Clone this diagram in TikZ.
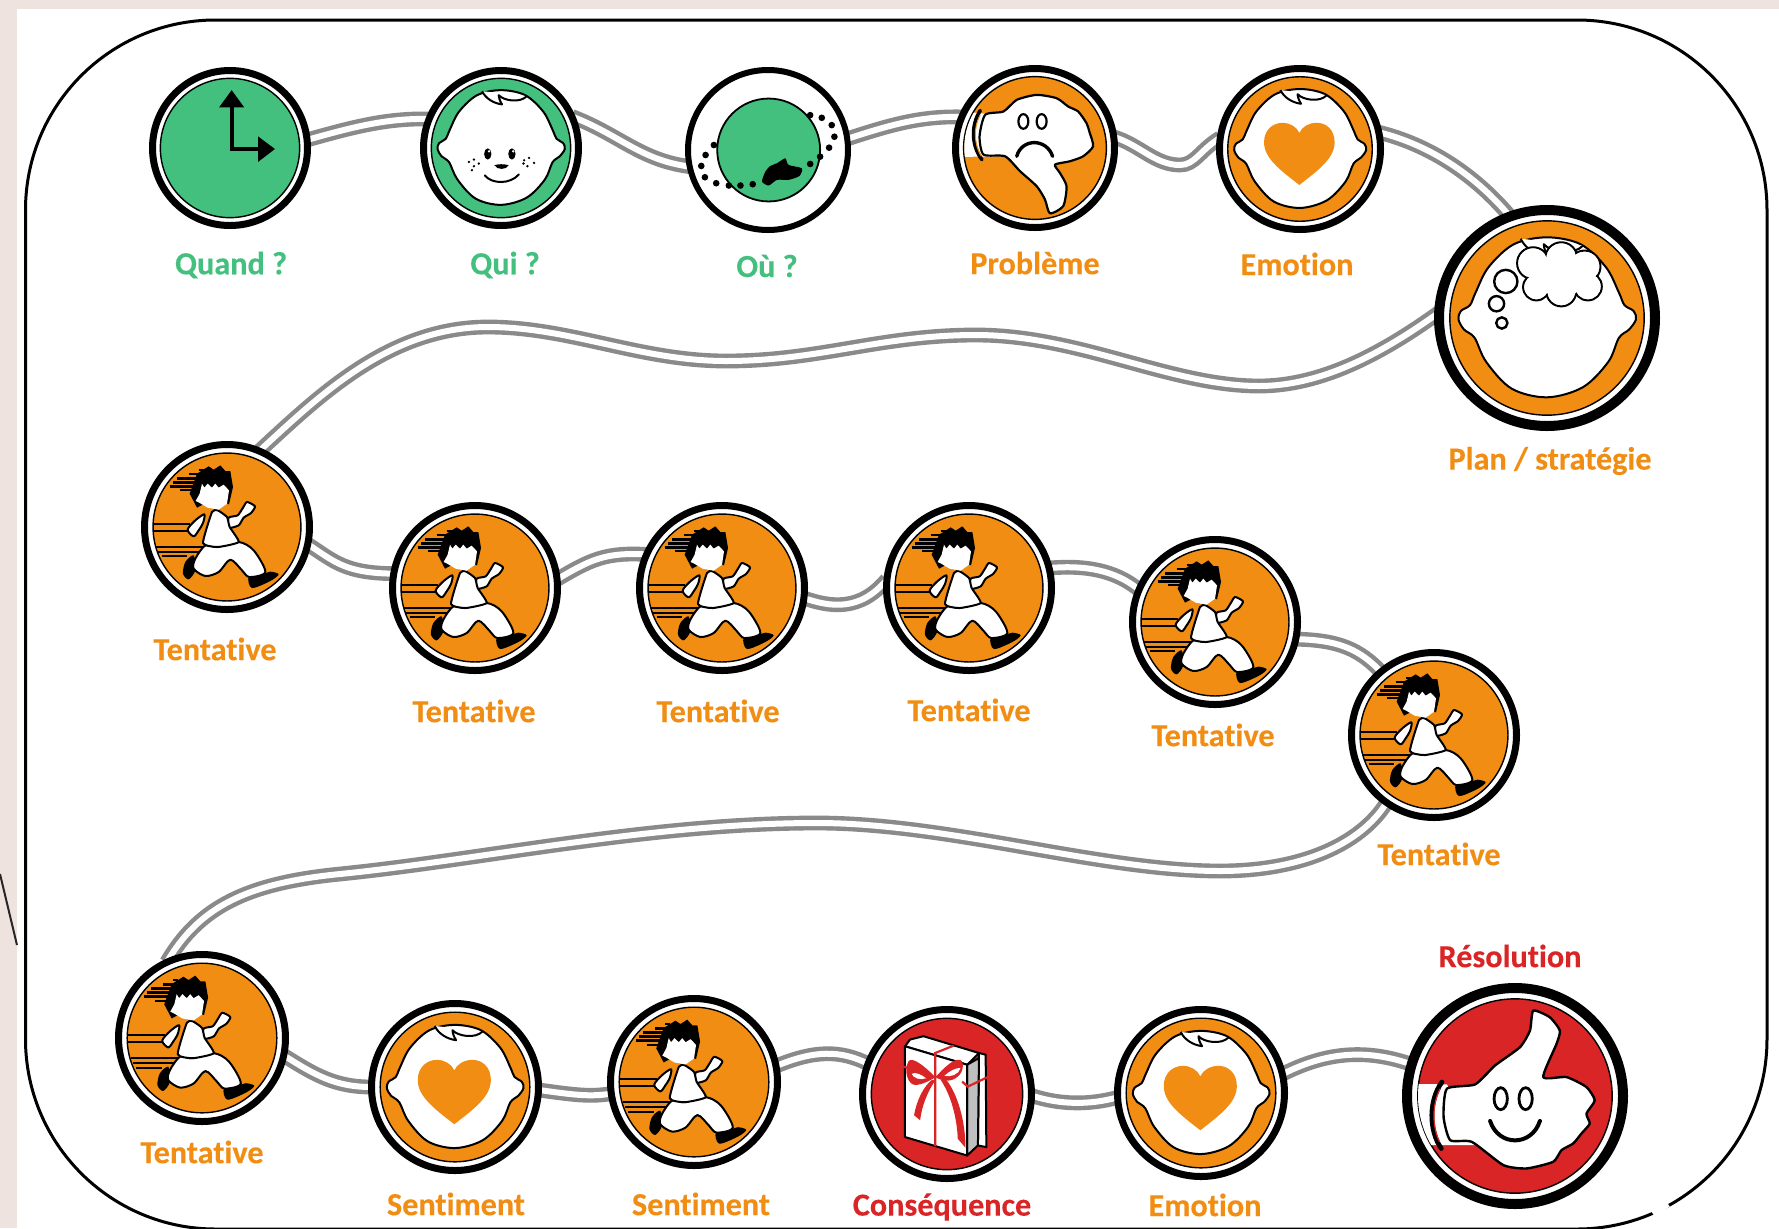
\documentclass[tikz,border=0pt]{standalone}
\usepackage{fontspec}
\setmainfont[Ligatures=NoCommon,BoldFeatures={FakeBold=0.25}]{Carlito}
\definecolor{gr}{HTML}{43BF7E}
\definecolor{og}{HTML}{F18D12}
\definecolor{rd}{HTML}{DA2527}
\definecolor{bgp}{HTML}{EFE3DF}
\definecolor{rdg}{HTML}{8A8A8A}
\pgfdeclarelayer{back}
\pgfsetlayers{back,main}
\tikzset{
  ring/.style={circle,draw=black,fill=white,inner sep=0pt,outer sep=0pt},
  road/.style={draw=rdg,line width=2.2pt,double=white,double distance=3pt},
  blk/.style={draw=black,line width=1pt,line join=round},
  lab/.style={font=\bfseries\fontsize{16.1}{18}\selectfont,inner sep=0pt},
  labg/.style={lab,text=gr},
  labo/.style={lab,text=og},
  labr/.style={lab,text=rd}
}
% name, x, y, radius, ring width, disk colour, icon
\newcommand\medal[7]{%
  \node[ring,line width=#5*.5pt,minimum size={(#4-#5/2)*1pt}] (#1) at (#2,#3) {};
  \begin{scope}[shift={(#2,#3)},scale=#4/100]
    \draw[draw=black,line width=.7pt,fill=#6] circle[radius=86];
    #7
  \end{scope}}
\newcommand\babyhead{\begin{scope}[scale=.408,shift={(-1112,-325)}]
  \draw[blk,fill=white] plot[smooth cycle,tension=.55] coordinates{(1112,150)(1185,165)(1240,215)(1268,270)(1280,297)(1300,310)(1305,328)(1290,350)(1268,368)(1245,420)(1190,475)(1112,497)(1035,478)(980,420)(955,368)(932,350)(920,328)(925,310)(945,297)(957,270)(985,215)(1040,165)};
  \draw[blk,fill=white] (1055,153) .. controls (1065,175) and (1090,190) .. (1115,193) .. controls (1108,182) and (1105,172) .. (1105,165) .. controls (1120,182) and (1170,190) .. (1190,168);
\end{scope}}
\newcommand\heartshape{\begin{scope}[scale=.4,shift={(-300,-298)}]
  \fill[og] (298,405) .. controls (240,360) and (193,325) .. (193,278) .. controls (193,240) and (220,220) .. (248,220) .. controls (270,220) and (290,232) .. (298,250) .. controls (306,232) and (326,220) .. (350,220) .. controls (378,220) and (403,240) .. (403,278) .. controls (403,325) and (356,360) .. (298,405) -- cycle;
\end{scope}}
\newcommand\runner{\begin{scope}[scale=.3876,shift={(-290,-290)}]
  \foreach \a/\b/\c in {205/118/1,175/131/1.3,140/144/1.4,128/156/1.4,118/168/1.4,150/180/1}{
    \draw[black,line width=\c pt] (\a,\b) -- (220,\b);}
  \draw[black,line width=.9pt] (72,282) -- (180,282) (72,301) -- (180,301);
  \draw[black,line width=.9pt] (78,350) -- (225,350) (84,365) -- (225,365) (94,378) -- (170,378);
  \fill[black] (200,130) -- (235,108) -- (250,118) -- (270,105) -- (285,122) -- (300,122) -- (308,170) -- (296,222) -- (250,205) -- (200,232) -- (178,190) -- cycle;
  \fill[black] plot[smooth cycle,tension=.5] coordinates{(190,375)(165,395)(158,430)(175,447)(195,420)};
  \fill[black] plot[smooth cycle,tension=.5] coordinates{(355,440)(365,473)(420,452)(445,432)(420,424)(395,432)};
  \draw[blk,fill=white] plot[smooth cycle,tension=.5] coordinates{(222,252)(195,270)(172,298)(190,318)(205,300)(218,278)};
  \draw[blk,fill=white] plot[smooth cycle,tension=.4] coordinates{(295,262)(322,255)(338,232)(350,215)(374,228)(362,248)(340,262)(325,285)(295,292)};
  \draw[blk,fill=white] plot[smooth cycle,tension=.5] coordinates{(225,345)(195,385)(190,415)(225,437)(265,425)(300,388)(335,420)(357,440)(405,425)(370,360)(325,335)(260,350)};
  \draw[blk,fill=white] plot[smooth cycle,tension=.3] coordinates{(245,245)(218,338)(262,350)(325,335)(298,290)(290,260)(262,240)};
  \fill[white] (215,160) -- (222,172) -- (232,160) -- (245,172) -- (255,160) -- (265,172) -- (280,163) -- (296,180) -- (290,220) -- (265,238) -- (232,232) -- (205,216) -- (196,212) -- (208,190) -- cycle;
\end{scope}}
\begin{document}
\begin{tikzpicture}[x=.5pt,y=-.5pt]
\useasboundingbox (0,0) rectangle (1779,1228);
\begin{pgfonlayer}{back}
  \fill[bgp] (0,0) rectangle (1779,1228);
  \fill[white] (17,9) rectangle (1779,1228);
  \draw[black!85,line width=1pt] (0,874) -- (17,945);
  \draw[black,line width=1.5pt,rounded corners=95pt] (25.5,20) rectangle (1767,1229);
  \draw[white,line width=3pt] (1653,1214) -- (1668,1204);
\end{pgfonlayer}

% ---------- row 1
\medal{quand}{230}{148}{81}{7}{gr}{\begin{scope}[scale=.408,shift={(-300,-325)}]
   \draw[black,line width=2pt] (305,195) -- (305,328) -- (390,328);
   \fill[black] (305,150) -- (343,202) -- (267,202) -- cycle;
   \fill[black] (436,328) -- (385,290) -- (385,367) -- cycle;
 \end{scope}}
\medal{qui}{501}{148}{81}{7}{gr}{\babyhead
  \begin{scope}[scale=.408,shift={(-1112,-325)}]
   \fill[black] (1072,343) ellipse[x radius=11,y radius=17];
   \fill[black] (1145,343) ellipse[x radius=11,y radius=17];
   \fill[white] (1076,335) circle[radius=4] (1149,335) circle[radius=4];
   \fill[black] (1092,377) .. controls (1105,373) and (1120,373) .. (1135,377) .. controls (1128,392) and (1100,392) .. (1092,377) -- cycle;
   \draw[black,line width=1pt,line cap=round] (1063,408) .. controls (1085,435) and (1140,435) .. (1166,405);
   \foreach \p/\q in {1015/367,1030/360,1045/372,1030/380,1024/392,1182/362,1197/355,1212/370,1192/380,1180/372}{\fill[black] (\p,\q) circle[radius=4];}
  \end{scope}}
\node[ring,line width=3pt,minimum size=80pt] (ou) at (768,150) {};
\begin{scope}[shift={(768,150)},scale=.83]
 \begin{scope}[scale=.4,shift={(-293,-330)}]
  \draw[draw=black,line width=.9pt,fill=gr] (295,330) circle[radius=155];
  \fill[black] plot[smooth cycle,tension=.4] coordinates{(275,425)(285,395)(300,378)(320,370)(345,355)(355,375)(395,385)(388,408)(355,420)(320,420)(295,437)};
  \foreach \p/\q in {130/315,105/345,92/378,103/412,137/430,175/437,210/437,247/433,420/372,450/350,477/323,493/290,485/255,455/233,420/225}{\fill[black] (\p,\q) circle[radius=10];}
 \end{scope}
\end{scope}
\medal{prob}{1035}{148}{83}{7}{og}{\begin{scope}[scale=.4,shift={(-1095,-325)}]
   \begin{scope}\clip (1095,325) circle[radius=213];
     \fill[white] (860,213) -- (945,222) -- (1000,350) -- (860,352) -- cycle;
   \end{scope}
   \draw[blk,fill=white,line width=1.1pt] plot[smooth cycle,tension=.4] coordinates{(945,225)(1000,215)(1040,180)(1100,165)(1160,175)(1195,200)(1225,215)(1250,250)(1260,280)(1270,320)(1240,350)(1200,365)(1155,375)(1170,400)(1190,440)(1180,500)(1140,522)(1125,480)(1100,440)(1050,395)(1005,350)(940,345)(928,290)};
   \draw[black,line width=1.8pt,line cap=round] (930,212) .. controls (900,260) and (905,320) .. (935,360);
   \draw[og,line width=.5pt] (930,225) .. controls (908,265) and (912,315) .. (933,350);
   \draw[black,line width=1.1pt] (1060,245) ellipse[x radius=15,y radius=22];
   \draw[black,line width=1.1pt] (1115,245) ellipse[x radius=15,y radius=22];
   \draw[black,line width=1.7pt,line cap=round] (1040,350) .. controls (1055,295) and (1130,295) .. (1148,350);
 \end{scope}}
\medal{emoa}{1300}{149}{84}{7}{og}{\babyhead\heartshape}
\medal{plan}{1547}{318}{113}{10}{og}{\babyhead
  \begin{scope}[scale=.294,shift={(-1042,-805)}]
   \foreach \p/\q/\s in {1000/640/48,1085/625/48,1155/650/48,1165/710/42,1085/725/45,1010/712/40}{\draw[blk,fill=white] (\p,\q) circle[radius=\s];}
   \fill[white] (1000,640) circle[radius=44] (1085,625) circle[radius=44] (1155,650) circle[radius=44] (1165,710) circle[radius=38] (1085,725) circle[radius=41] (1010,712) circle[radius=36] (1085,675) circle[radius=70];
   \draw[blk,fill=white,line width=1.2pt] (918,695) circle[radius=35] (890,762) circle[radius=23] (906,820) circle[radius=17];
  \end{scope}}
% ---------- row 2
\medal{ta}{227}{527}{86}{7}{og}{\runner}
\medal{tb}{475}{588}{86}{7}{og}{\runner}
\medal{tc}{722}{588}{86}{7}{og}{\runner}
\medal{td}{969}{588}{86}{7}{og}{\runner}
\medal{te}{1215}{622}{86}{7}{og}{\runner}
\medal{tf}{1434}{735}{86}{7}{og}{\runner}
% ---------- row 3
\medal{tg}{202}{1038}{87}{7}{og}{\runner}
\medal{sa}{455}{1087}{87}{7}{og}{\babyhead\heartshape}
\medal{sb}{694}{1082}{87}{7}{og}{\runner}
\medal{cons}{947}{1094}{88}{7}{rd}{\begin{scope}[scale=.382,shift={(-320,-312)}]
   \draw[blk,fill=white] (195,170) -- (210,150) -- (250,140) -- (415,190) -- (380,225) -- cycle;
   \draw[blk,fill=white] (415,190) -- (435,195) -- (437,470) -- (412,465) -- cycle;
   \draw[blk,fill=black!25] (380,225) -- (415,205) -- (412,465) -- (380,495) -- cycle;
   \draw[blk,fill=white] (195,170) -- (380,225) -- (380,495) -- (195,440) -- cycle;
   \draw[rd,line width=1.1pt] (285,468) -- (285,190) -- (340,168);
   \draw[rd,line width=1.1pt] (190,230) -- (205,235) (365,275) -- (382,290) -- (440,262);
   \fill[rd] (285,262) .. controls (250,225) and (215,200) .. (205,215) .. controls (190,245) and (205,285) .. (225,285) .. controls (245,285) and (270,272) .. (285,262) .. controls (310,235) and (350,195) .. (365,215) .. controls (375,245) and (350,270) .. (325,272) .. controls (310,272) and (295,268) .. (285,262);
   \fill[white] (215,252) .. controls (225,245) and (245,255) .. (258,265) .. controls (240,272) and (220,265) .. (215,252);
   \fill[white] (312,258) .. controls (325,245) and (350,232) .. (360,235) .. controls (355,255) and (330,262) .. (312,258);
   \fill[rd] (275,270) .. controls (250,290) and (230,330) .. (222,375) -- (240,390) .. controls (245,345) and (265,300) .. (285,272) -- cycle;
   \fill[rd] (300,268) .. controls (335,320) and (350,390) .. (352,445) -- (375,472) .. controls (375,390) and (350,310) .. (318,270) -- cycle;
 \end{scope}}
\medal{emob}{1201}{1093}{87}{7}{og}{\babyhead\heartshape}
\medal{res}{1515}{1096}{113}{10}{rd}{\begin{scope}[scale=.294,shift={(-405,-497)}]
   \begin{scope}\clip (405,497) circle[radius=292];
     \fill[white] (60,460) -- (200,462) -- (300,645) -- (60,645) -- cycle;
   \end{scope}
   \draw[blk,fill=white,line width=1.2pt] plot[smooth cycle,tension=.35] coordinates{(200,475)(285,462)(345,405)(420,350)(450,300)(460,240)(510,260)(540,300)(530,340)(490,440)(560,440)(620,470)(645,510)(620,550)(630,580)(605,610)(580,640)(545,660)(520,695)(440,715)(370,705)(275,635)(210,630)(190,560)};
   \draw[black,line width=2.4pt,line cap=round] (185,455) .. controls (145,510) and (145,600) .. (183,655);
   \draw[rd,line width=.6pt] (180,475) .. controls (155,520) and (155,590) .. (178,635);
   \draw[black,line width=1.4pt] (362,505) ellipse[x radius=20,y radius=33];
   \draw[black,line width=1.4pt] (437,505) ellipse[x radius=20,y radius=33];
   \draw[black,line width=2pt,line cap=round] (330,572) .. controls (355,650) and (455,650) .. (480,572);
 \end{scope}}

% ---------- labels
\node[labg] (l1) at (231,265) {Quand ?};
\node[labg] (l2) at (505,265) {Qui ?};
\node[labg] (l3) at (767,266) {Où ?};
\node[labo] (l4) at (1035,263) {Problème};
\node[labo] (l5) at (1297,264) {Emotion};
\node[labo] (l6) at (1550,461) {Plan / stratégie};
\node[labo] (l7) at (215,649) {Tentative};
\node[labo] (l8) at (474,711) {Tentative};
\node[labo] (l9) at (718,711) {Tentative};
\node[labo] (l10) at (969,710) {Tentative};
\node[labo] (l11) at (1213,735) {Tentative};
\node[labo] (l12) at (1439,854) {Tentative};
\node[labo] (l13) at (202,1152) {Tentative};
\node[labo] (l14) at (456,1204) {Sentiment};
\node[labo] (l15) at (701,1204) {Sentiment};
\node[labr] (l16) at (942,1207) {Conséquence};
\node[labo] (l17) at (1205,1205) {Emotion};
\node[labr] (l18) at (1510,956) {Résolution};

% ---------- connectors
\begin{pgfonlayer}{back}
\draw[road] (quand.6) .. controls (350,128) and (385,118) .. (qui.158);
\draw[road] (qui.24) .. controls (620,135) and (640,160) .. (ou.192);
\draw[road] (ou.8) .. controls (890,125) and (920,116) .. (prob.157);
\draw[road] (prob.8) .. controls (1140,145) and (1155,165) .. (1180,165) .. controls (1195,165) and (1200,150) .. (emoa.172);
\draw[road] (emoa.12) .. controls (1430,145) and (1475,175) .. (plan.110);
\draw[road] (plan.177) .. controls (1380,355) and (1320,386) .. (1259,386) .. controls (1170,386) and (1080,335) .. (976,335) .. controls (880,335) and (820,361) .. (726,361) .. controls (640,361) and (570,327) .. (488,327) .. controls (390,327) and (320,395) .. (ta.67);
\draw[road] (ta.-12) .. controls (335,562) and (345,573) .. (tb.170);
\draw[road] (tb.6) .. controls (590,560) and (605,552) .. (tc.156);
\draw[road] (tc.-7) .. controls (830,607) and (860,612) .. (td.174);
\draw[road] (td.14) .. controls (1085,565) and (1115,570) .. (te.157);
\draw[road] (te.-12) .. controls (1340,640) and (1360,650) .. (tf.130);
\draw[road] (tf.235) .. controls (1360,845) and (1300,871) .. (1220,871) .. controls (1100,871) and (950,823) .. (817,823) .. controls (650,823) and (480,860) .. (340,874) .. controls (250,883) and (200,905) .. (tg.115);
\draw[road] (tg.-12) .. controls (315,1075) and (335,1087) .. (sa.180);
\draw[road] (sa.-2) .. controls (575,1095) and (590,1097) .. (sb.188);
\draw[road] (sb.11) .. controls (815,1050) and (840,1050) .. (cons.159);
\draw[road] (cons.-1) .. controls (1060,1105) and (1090,1105) .. (emob.183);
\draw[road] (emob.13) .. controls (1330,1050) and (1370,1050) .. (res.163);
\end{pgfonlayer}
\end{tikzpicture}
\end{document}
